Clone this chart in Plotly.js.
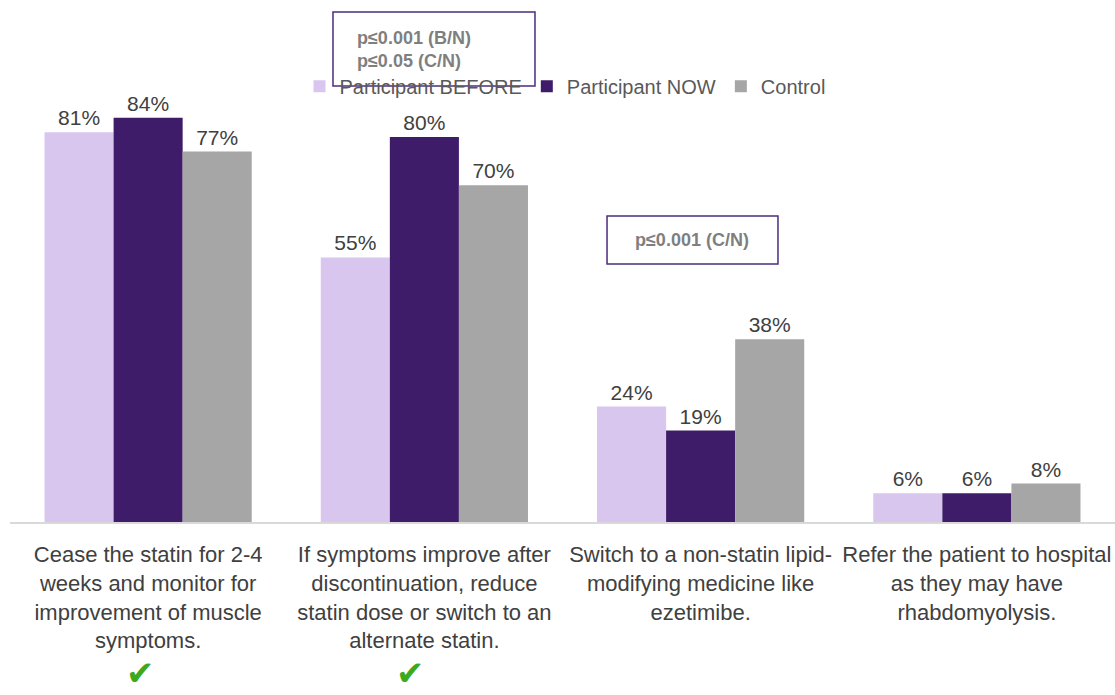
<!DOCTYPE html>
<html>
<head>
<meta charset="utf-8">
<script src="https://cdn.plot.ly/plotly-3.0.1.min.js"></script>
<style>html,body{margin:0;padding:0;background:#fff;}#chart{width:1115px;height:695px;}</style>
</head>
<body>
<div id="chart"></div>
<script>
const categories = [
  "Cease the statin for 2-4<br>weeks and monitor for<br>improvement of muscle<br>symptoms.",
  "If symptoms improve after<br>discontinuation, reduce<br>statin dose or switch to an<br>alternate statin.",
  "Switch to a non-statin lipid-<br>modifying medicine like<br>ezetimibe.",
  "Refer the patient to hospital<br>as they may have<br>rhabdomyolysis."
];
const seriesNames = ["Participant BEFORE", "Participant NOW", "Control"];
const before = [81, 55, 24, 6];
const now = [84, 80, 19, 6];
const control = [77, 70, 38, 8];
const colors = ["#D9C6EE", "#3F1C69", "#A6A6A6"];

const FONT = "'Liberation Sans', Arial, sans-serif";
const traces = [before, now, control].map((vals, i) => ({
  type: "bar",
  name: seriesNames[i],
  x: categories,
  y: vals,
  marker: {color: colors[i]},
  text: vals.map(v => v + "%"),
  textposition: "outside",
  cliponaxis: false,
  textfont: {family: FONT, size: 21, color: "#404040"},
  hoverinfo: "skip"
}));

const layout = {
  width: 1115, height: 695,
  margin: {l: 10, r: 0, t: 0, b: 173},
  paper_bgcolor: "#fff", plot_bgcolor: "#fff",
  barmode: "group",
  bargap: 0.25,
  bargroupgap: 0,
  font: {family: FONT, color: "#404040"},
  xaxis: {
    tickfont: {family: FONT, size: 22, color: "#404040"},
    tickangle: 0,
    ticklabelstandoff: 12,
    showline: true, linecolor: "#D9D9D9", linewidth: 2,
    ticks: "", showgrid: false, fixedrange: true
  },
  yaxis: {range: [0, 108.5], visible: false, showgrid: false, zeroline: false, fixedrange: true},
  legend: {
    orientation: "h", x: 0.262, y: 0.835, xanchor: "left", yanchor: "middle",
    font: {family: FONT, size: 20, color: "#595959"},
    bgcolor: "rgba(0,0,0,0)", traceorder: "normal"
  },
  showlegend: true,
  shapes: [
    {type: "rect", xref: "paper", yref: "paper", x0: 0.2923, x1: 0.4751, y0: 0.8352, y1: 0.977,
     line: {color: "#4B2C7F", width: 1.5}, fillcolor: "rgba(0,0,0,0)"},
    {type: "rect", xref: "paper", yref: "paper", x0: 0.5403, x1: 0.695, y0: 0.4943, y1: 0.5862,
     line: {color: "#4B2C7F", width: 1.5}, fillcolor: "rgba(0,0,0,0)"}
  ],
  annotations: [
    {xref: "paper", yref: "paper", x: 0.312, y: 0.906, xanchor: "left", yanchor: "middle", align: "left",
     showarrow: false, text: "<b>p≤0.001 (B/N)<br>p≤0.05 (C/N)</b>",
     font: {family: FONT, size: 18, color: "#7F7F7F"}},
    {xref: "paper", yref: "paper", x: 0.617, y: 0.540, xanchor: "center", yanchor: "middle",
     showarrow: false, text: "<b>p≤0.001 (C/N)</b>",
     font: {family: FONT, size: 18, color: "#7F7F7F"}},
    {xref: "paper", yref: "paper", x: 0.118, y: -0.29, xanchor: "center", yanchor: "middle",
     showarrow: false, text: "✔", font: {family: "DejaVu Sans", size: 34, color: "#3DAA1E"}},
    {xref: "paper", yref: "paper", x: 0.362, y: -0.29, xanchor: "center", yanchor: "middle",
     showarrow: false, text: "✔", font: {family: "DejaVu Sans", size: 34, color: "#3DAA1E"}}
  ]
};

Plotly.newPlot("chart", traces, layout, {displayModeBar: false, staticPlot: true});
</script>
</body>
</html>
